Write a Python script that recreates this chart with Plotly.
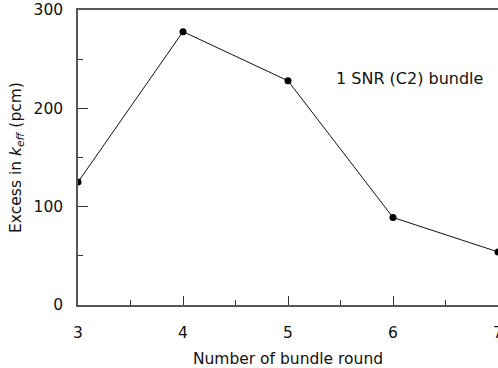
import plotly.graph_objects as go

rounds = [3, 4, 5, 6, 7]
excess_pcm = [125, 278, 228, 89, 54]
x_ticks = [3, 4, 5, 6, 7]
y_ticks = [0, 100, 200, 300]
label = "1 SNR (C2) bundle"

FONT = "DejaVu Sans"
FS = 15.5

fig = go.Figure()
fig.add_trace(go.Scatter(
    x=rounds, y=excess_pcm, mode="lines+markers",
    line=dict(color="#111", width=1),
    marker=dict(color="#000", size=7),
    showlegend=False,
))
fig.add_annotation(x=6.16, y=230, text=label, showarrow=False,
                   font=dict(family=FONT, size=16, color="#111"))

axis_common = dict(
    showgrid=False, zeroline=False, showline=True, linecolor="#555", linewidth=1.5,
    ticks="inside", tickcolor="#333", tickwidth=1.2, ticklabeloverflow="allow",
    automargin=False,
    tickfont=dict(family=FONT, size=FS, color="#111"),
)
fig.update_xaxes(range=[3, 7], tickvals=x_ticks, ticklen=9, mirror=True,
                 minor=dict(dtick=0.5, ticks="inside", ticklen=5, tickcolor="#333", tickwidth=1.2),
                 ticklabelstandoff=13,
                 title=dict(text="Number of bundle round", font=dict(family=FONT, size=FS, color="#111"), standoff=12),
                 **axis_common)
fig.update_yaxes(range=[0, 300], tickvals=y_ticks, ticklen=10,
                 minor=dict(dtick=50, ticks="inside", ticklen=5, tickcolor="#333", tickwidth=1.2),
                 ticklabelstandoff=10,
                 title=dict(text="Excess in <i>k</i><sub><i>eff</i></sub> (pcm)", font=dict(family=FONT, size=FS, color="#111"), standoff=8),
                 **axis_common)
fig.update_layout(width=498, height=368, margin=dict(l=78, r=0, t=10, b=63),
                  plot_bgcolor="white", paper_bgcolor="white",
                  font=dict(family=FONT))
fig.write_html("out.html")
